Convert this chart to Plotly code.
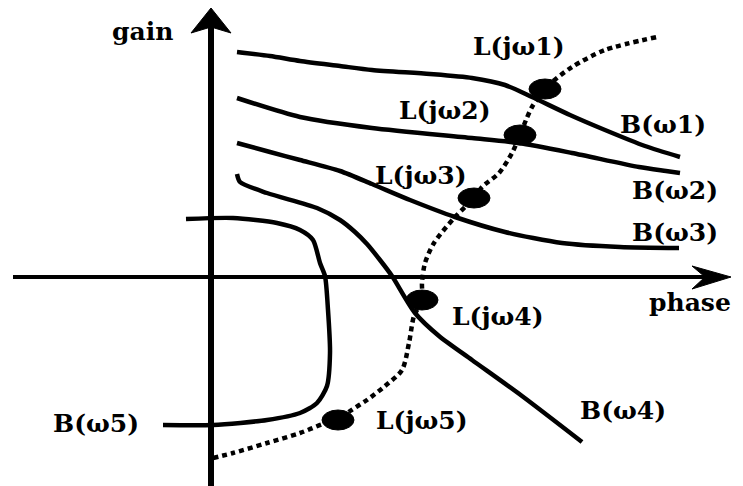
import plotly.graph_objects as go

# ---- data (phase = x, gain = y; origin at axes crossing) ----
b1_x = [26, 59, 89, 129, 161, 219, 261, 294, 321, 359, 394, 434, 469]
b1_y = [225, 221, 216, 211, 207, 203, 199, 192, 180, 162, 147, 131, 120]

b2_x = [26, 89, 161, 261, 308, 361, 428, 455, 469]
b2_y = [179, 160, 149, 139, 134, 124, 110, 106, 104]

b3_x = [26, 59, 89, 129, 161, 199, 244, 294, 351, 409, 468]
b3_y = [134, 125, 117, 106, 93, 77, 60, 45, 34, 30, 29]

b4_x = [26, 29, 56, 106, 129, 144, 156, 169, 181, 204, 228, 261, 311, 371]
b4_y = [103, 95, 84, 69, 57, 45, 33, 17, 1, -36, -59, -83, -119, -165]

b5_x = [-25, 22, 66, 89, 102, 109, 114, 117, 119, 116, 106, 89, 56, 2, -48]
b5_y = [58, 59, 54, 47, 37, 14, 1, -33, -76, -109, -126, -136, -143, -148, -148]

l_x = [2, 22, 56, 89, 112, 127, 139, 156, 174, 191, 198, 203, 211, 211, 214, 223,
       244, 263, 271, 288, 301, 309, 315, 321, 334, 341, 361, 394, 446]
l_y = [-181, -176, -166, -156, -147, -143, -134, -123, -109, -93, -66, -39, -23, -6,
       14, 34, 60, 79, 90, 104, 124, 142, 157, 170, 188, 195, 210, 227, 240]

dot_x = [334, 309, 263, 211, 127]
dot_y = [188, 142, 79, -23, -143]

label_text = ["L(jω1)", "L(jω2)", "L(jω3)", "L(jω4)", "L(jω5)",
              "B(ω1)", "B(ω2)", "B(ω3)", "B(ω4)", "B(ω5)"]
label_x = [307, 233, 209, 286, 210, 452, 464, 464, 412, -115]
label_y = [231, 167, 102, -39, -143, 153, 87, 45, -133, -146]

FONT = "DejaVu Serif"
FS = 25

fig = go.Figure()

for xs, ys in [(b1_x, b1_y), (b2_x, b2_y), (b3_x, b3_y), (b4_x, b4_y), (b5_x, b5_y)]:
    fig.add_trace(go.Scatter(x=xs, y=ys, mode="lines",
                             line=dict(color="black", width=4.5, shape="spline", smoothing=0.7),
                             hoverinfo="skip", showlegend=False))

fig.add_trace(go.Scatter(x=l_x, y=l_y, mode="lines",
                         line=dict(color="black", width=4.5, dash="5px,4px", shape="spline", smoothing=0.8),
                         hoverinfo="skip", showlegend=False))

shapes = []
# axes
shapes.append(dict(type="line", x0=0, x1=0, y0=-209, y1=252, line=dict(color="black", width=6)))
shapes.append(dict(type="path", path="M0,269 L20,244 L0,250 L-20,244 Z",
                   fillcolor="black", line=dict(color="black", width=1)))
shapes.append(dict(type="line", x0=-198, x1=512, y0=0, y1=0, line=dict(color="black", width=4)))
shapes.append(dict(type="path", path="M520,0 L481,11 L494,0 L481,-12 Z",
                   fillcolor="black", line=dict(color="black", width=1)))
# dots (ellipses)
for dx, dy in zip(dot_x, dot_y):
    shapes.append(dict(type="circle", x0=dx - 16, x1=dx + 16, y0=dy - 10, y1=dy + 10,
                       fillcolor="black", line=dict(color="black", width=1)))

annotations = []
for t, x, y in zip(label_text, label_x, label_y):
    annotations.append(dict(x=x, y=y, text=t, showarrow=False, xanchor="center", yanchor="middle",
                            font=dict(family=FONT, size=FS, color="black", weight="bold")))
annotations.append(dict(x=-69, y=246, text="gain", showarrow=False, xanchor="center", yanchor="middle",
                        font=dict(family=FONT, size=FS, color="black", weight="bold")))
annotations.append(dict(x=479, y=-25, text="phase", showarrow=False, xanchor="center", yanchor="middle",
                        font=dict(family=FONT, size=FS, color="black", weight="bold")))

fig.update_layout(
    width=743, height=486, autosize=False,
    margin=dict(l=0, r=0, t=0, b=0),
    paper_bgcolor="white", plot_bgcolor="white",
    xaxis=dict(range=[-211, 532], visible=False, fixedrange=True),
    yaxis=dict(range=[-209, 277], visible=False, fixedrange=True),
    shapes=shapes, annotations=annotations,
)

fig.write_html("out.html", config={"displayModeBar": False},
               post_script="document.body.style.margin='0';document.body.style.overflow='hidden';")
